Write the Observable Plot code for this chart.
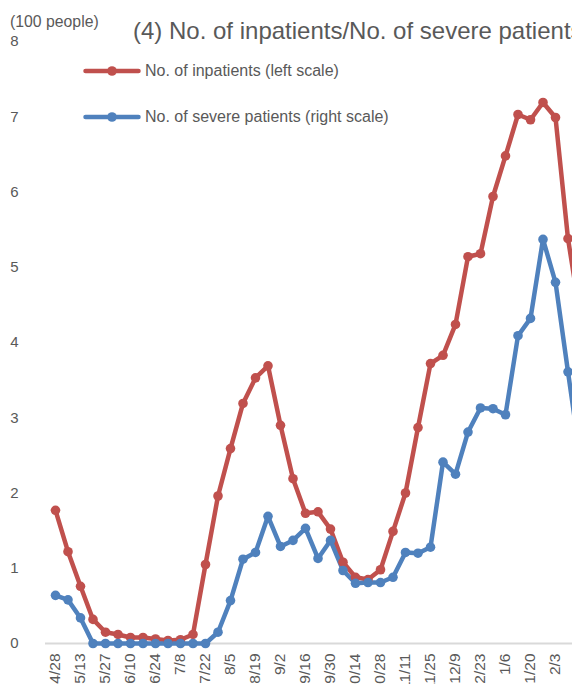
<!DOCTYPE html>
<html>
<head>
<meta charset="utf-8">
<script src="https://cdn.jsdelivr.net/npm/d3@7"></script>
<script src="https://cdn.jsdelivr.net/npm/@observablehq/plot@0.6"></script>
<style>
  html, body { margin: 0; padding: 0; overflow: hidden; background: #fff; width: 572px; height: 684px; }
  #wrap { position: relative; width: 620px; height: 720px; font-family: Arial, "Liberation Sans", sans-serif; }
  #wrap > svg { max-width: none !important; position: absolute; left: 0; top: 0; }
  .title { position: absolute; left: 133px; top: 16px; font-size: 24px; line-height: 30px; color: #595959; white-space: nowrap; }
  .unit { position: absolute; left: 10px; top: 12px; font-size: 15.8px; line-height: 20px; color: #595959; white-space: nowrap; }
  .leg { position: absolute; left: 83px; font-size: 16px; line-height: 20px; height: 20px; color: #595959; white-space: nowrap; display: flex; align-items: center; z-index: 2; }
  .leg svg { margin-right: 4px; display: block; }
</style>
</head>
<body>
<div id="wrap">
  <div class="unit">(100 people)</div>
  <div class="title">(4) No. of inpatients/No. of severe patients</div>
  <div class="leg" id="leg1" style="top:61px"></div>
  <div class="leg" id="leg2" style="top:107px"></div>
</div>
<script>
const dates = ["4/28","5/6","5/13","5/20","5/27","6/3","6/10","6/17","6/24","7/1","7/8","7/15","7/22","7/29","8/5","8/12","8/19","8/26","9/2","9/9","9/16","9/23","9/30","10/7","10/14","10/21","10/28","11/4","11/11","11/18","11/25","12/2","12/9","12/16","12/23","12/30","1/6","1/13","1/20","1/27","2/3","2/10","2/17"];
const inpatients = [1.77,1.22,0.76,0.32,0.15,0.12,0.08,0.08,0.06,0.04,0.05,0.12,1.05,1.96,2.59,3.19,3.53,3.69,2.90,2.19,1.73,1.75,1.52,1.08,0.88,0.85,0.98,1.49,2.00,2.87,3.72,3.83,4.24,5.14,5.18,5.94,6.48,7.03,6.96,7.19,6.99,5.38,4.33];
const severe = [0.64,0.58,0.34,0,0,0,0,0,0,0,0,0,0,0.15,0.57,1.12,1.21,1.69,1.29,1.37,1.53,1.13,1.37,0.97,0.80,0.81,0.81,0.88,1.21,1.20,1.28,2.41,2.25,2.81,3.13,3.12,3.04,4.09,4.32,5.37,4.80,3.61,2.45];
const yTicks = [0,1,2,3,4,5,6,7,8];
const seriesNames = ["No. of inpatients (left scale)", "No. of severe patients (right scale)"];
const colors = ["#C0504D", "#4F81BD"];

const data = [];
dates.forEach((d, i) => {
  data.push({i, date: d, value: inpatients[i], series: seriesNames[0]});
  data.push({i, date: d, value: severe[i], series: seriesNames[1]});
});

const shownTicks = dates.map((d, i) => ({i, label: d})).filter(t => t.i % 2 === 0);

const chart = Plot.plot({
  width: 620,
  height: 720,
  marginLeft: 0, marginRight: 0, marginTop: 0, marginBottom: 0,
  style: {fontFamily: 'Arial, "Liberation Sans", sans-serif', color: "#595959", background: "transparent", overflow: "visible"},
  x: {type: "linear", domain: [0, dates.length - 1], range: [55, 580], axis: null},
  y: {domain: [0, 8], range: [643, 41], axis: null},
  color: {domain: seriesNames, range: colors},
  marks: [
    Plot.ruleY([0], {x1: -0.8, x2: dates.length + 2, stroke: "#d9d9d9", strokeWidth: 2}),
    Plot.text(yTicks, {y: d => d, text: d => String(d), frameAnchor: "left", dx: 14, textAnchor: "middle", fontSize: 15, fill: "#595959"}),
    Plot.text(shownTicks, {x: "i", y: () => 0, text: "label", rotate: -90, textAnchor: "end", lineAnchor: "middle", dy: 10, fontSize: 15.5, fill: "#595959"}),
    Plot.line(data, {x: "i", y: "value", z: "series", stroke: "series", strokeWidth: 4.5, strokeLinejoin: "round", strokeLinecap: "round"}),
    Plot.dot(data, {x: "i", y: "value", fill: "series", r: 4.8, stroke: null})
  ]
});
document.getElementById("wrap").appendChild(chart);

function legendSample(id, idx) {
  const el = document.getElementById(id);
  const s = d3.create("svg").attr("width", 58).attr("height", 12);
  s.append("line").attr("x1", 2.5).attr("x2", 55.5).attr("y1", 6).attr("y2", 6)
    .attr("stroke", colors[idx]).attr("stroke-width", 4.5).attr("stroke-linecap", "round");
  s.append("circle").attr("cx", 29).attr("cy", 6).attr("r", 4.8).attr("fill", colors[idx]);
  el.appendChild(s.node());
  const t = document.createElement("span");
  t.textContent = seriesNames[idx];
  el.appendChild(t);
}
legendSample("leg1", 0);
legendSample("leg2", 1);
</script>
</body>
</html>
